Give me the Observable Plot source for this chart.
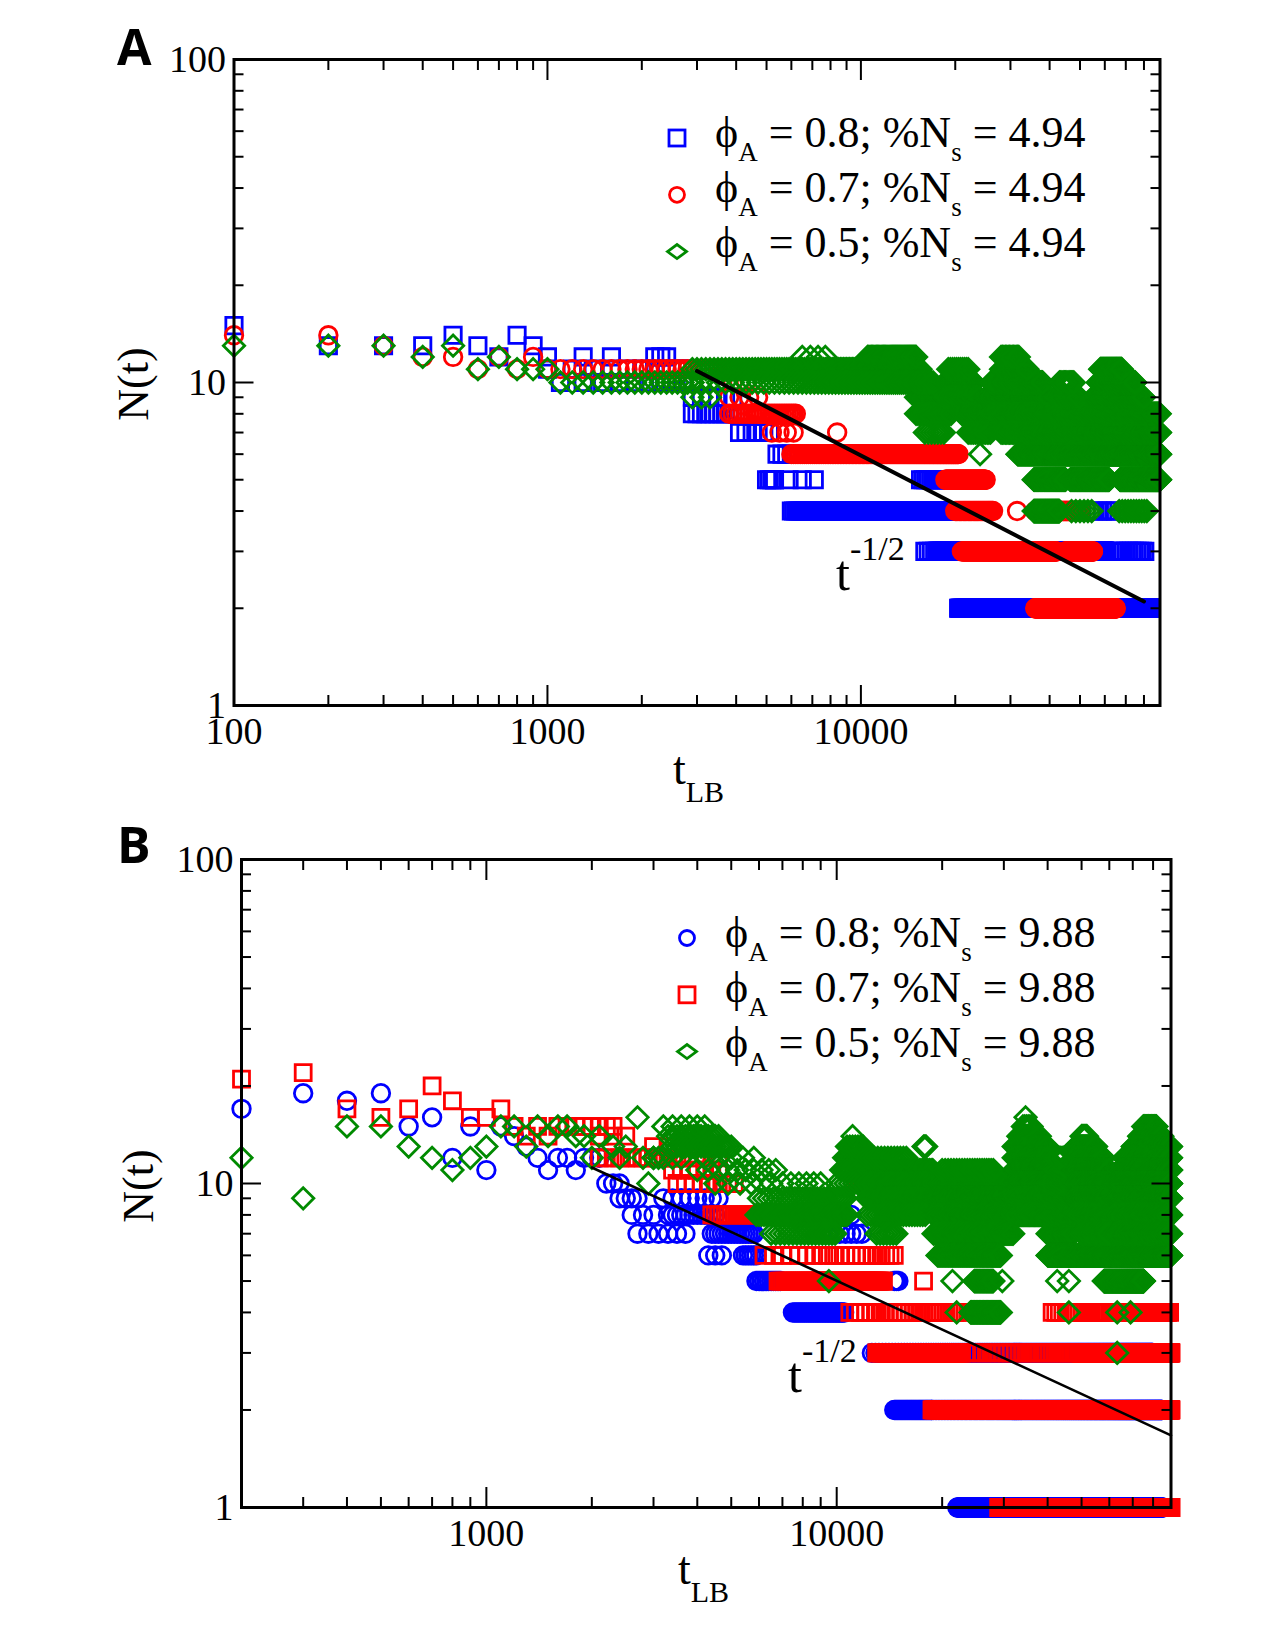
<!DOCTYPE html>
<html><head><meta charset="utf-8">
<script src="https://cdn.jsdelivr.net/npm/d3@7"></script>
<script src="https://cdn.jsdelivr.net/npm/@observablehq/plot@0.6"></script>
<style>
body{margin:0;background:#fff;}
#root{position:relative;width:1275px;height:1650px;background:#fff;overflow:hidden;}
.panel{position:absolute;left:0;}
#overlay text{white-space:pre;}
</style></head>
<body><div id="root"></div>
<script>
// ---------------- DATA ----------------
// Sampling interval of the simulation output (first points at 100, 200, 300 ...)
const STEP = 100;

// Panel A  (%Ns = 4.94)  points: [t, N] ; runs (plateaus): [N, tStart, tEnd, everyKthSample]
const aBluePts = [[100,15],[200,13],[300,13],[400,13],[500,14],[600,13],[700,12],[800,14],[900,13],[1000,12],[1300,12],[1600,12],[2200,12],[2300,12],[2400,12]];
const aBlueRuns = [
  [11,1000,2900,2],[10,1100,2900,2],[9,2900,3900,2],[8,2900,3900,1],[7,4100,5200,2],
  [6,5400,6100,2],[5,5000,5300,1],[5,5300,7600,6],[5,15500,19300,3],[4,6000,20200,1],
  [4,55000,65000,20],[3,16000,17500,4],[3,17500,60000,1],[3,64000,81000,15],[2,20500,84000,1]
];
const aRedPts = [[100,14],[200,14],[300,13],[400,12],[500,12],[600,11],[700,12],[800,11],[900,12],[1000,11]];
const aRedRuns = [
  [11,1000,3900,1],[10,3900,4300,2],[9,3800,4800,3],[8,3800,6200,1],[7,5200,6200,3],[7,8400,8400,1],
  [6,6000,20500,1],[5,18600,25000,1],[4,20000,26500,2],[4,31500,31500,1],[4,36000,50000,2],
  [3,21000,42000,1],[3,45000,55000,1],[2,36000,65000,1]
];
const aGreenPts = [[100,13],[200,13],[300,13],[400,12],[500,13],[600,11],[700,12],[800,11],[900,11],[1000,11]];
const aGreenRuns = [
  [10,1100,2900,1],[9,2900,3300,2],[11,2900,15500,1],[10,2900,15500,2],[12,10500,15000,1],[12,6500,8000,4],
  [9,15000,19000,1],[8,15000,19500,2],[7,16000,18500,4],[10,15000,17000,2],
  [10,18500,23000,1],[11,19000,22000,3],[9,18500,24000,2],[8,21000,27000,1],[7,22000,26000,3],[6,24000,24000,1],
  [9,25000,40000,1],[10,26000,38000,2],[11,28000,34000,2],[12,28000,32000,3],[8,26000,40000,2],[7,28000,36000,3],
  [6,31600,90000,1],[7,33000,90000,2],[8,40000,90000,3],[9,42000,50000,3],[10,43000,48000,4],
  [9,55000,80000,2],[10,57000,75000,2],[11,58000,68000,2],
  [5,35600,45000,1],[5,46500,62000,1],[5,67000,90000,1],
  [4,35600,43000,1],[4,47000,55000,15],[4,66700,82000,15]
];
const aFitT = [3000, 80000];
const aFitN = [10.85, 2.1];

// Panel B  (%Ns = 9.88)
const bBluePts = [[200,17],[300,19],[400,18],[500,19],[600,15],[700,16],[800,12],[900,15],[1000,11],[1100,15],[1200,14],[1300,13],[1400,12],[1500,11],[1600,12],[1700,12],[1800,11],[1900,12],[2000,12],[2100,12]];
const bBlueRuns = [
  [10,2200,2400,1],[9,2400,2700,1],[9,3200,3900,2],[9,3600,4600,2],[8,2600,3100,2],[8,3300,4500,1],
  [7,2700,3700,2],[7,4400,5800,1],[6,4300,4700,2],[6,5400,5900,1],[5,5900,6900,1],
  [7,9000,12000,4],[8,10000,11000,5],[4,7500,10500,1],[5,14600,15000,2],
  [3,12600,80000,3],[2,14600,18700,1],[2,18700,85000,2],[1,22100,29000,1],[1,29000,85000,2]
];
const bRedPts = [[200,21],[300,22],[400,17],[500,16],[600,17],[700,20],[800,18],[900,16],[1000,16],[1100,17],[1200,15],[1300,14],[1400,15],[1500,14],[1600,15],[1700,15],[1800,15],[1900,15],[2000,15]];
const bRedRuns = [
  [15,2000,2300,1],[14,2100,2500,2],[13,3000,4200,3],[12,2100,3600,1],[12,3600,4600,2],
  [11,3400,4700,2],[10,3500,5200,2],[8,4400,5900,1],[6,6200,14700,4],[5,6800,13600,1],[5,17700,17700,1],
  [10,11400,12800,3],[4,10900,22800,4],[4,41200,90000,10],
  [3,13000,22700,1],[3,22700,49700,8],[3,49700,90000,1],[2,18700,90000,1],[1,29000,90000,1]
];
const bGreenPts = [[200,12],[300,9],[400,15],[500,15],[600,13],[700,12],[800,11],[900,12],[1000,13],[1100,15],[1200,15],[1300,13],[1400,15],[1500,14],[1600,15],[1700,15],[1800,14],[1900,14],[2000,12],[2100,14],[2300,13],[2400,12],[2500,13],[2700,16],[2900,10],[3000,12],[3100,12]];
const bGreenRuns = [
  [14,3300,4600,1],[13,3400,5000,1],[15,3200,4300,2],[12,2800,3600,2],
  [11,4000,6800,3],[12,4200,6000,4],[10,4500,6800,4],
  [9,6000,10700,2],[8,5900,10700,1],[7,6500,10000,2],[10,7000,9000,4],[5,9500,9500,1],
  [12,10500,12200,2],[13,10700,12000,2],[14,11100,11100,1],[11,10300,12500,2],[10,10000,13000,3],
  [11,12200,18900,2],[10,12200,18900,2],[9,12200,18900,2],[8,12200,18000,3],[7,13000,15000,3],[12,12200,16000,3],[13,17700,18000,1],
  [10,18900,32000,2],[9,18900,32000,1],[8,18900,32000,1],[7,18900,32000,2],[11,20000,28000,4],
  [6,19400,29400,1],[5,21400,21400,1],[5,24700,28000,1],[5,29700,29700,1],[4,22000,22000,1],[4,24100,29400,1],
  [16,34600,34600,1],[15,34000,36000,4],[14,33000,38000,2],[13,32000,40000,2],[12,32000,40000,2],
  [11,32000,42000,1],[10,32000,42000,1],[9,32000,42000,2],[8,32000,40000,2],
  [7,40000,47500,2],[8,40000,47500,2],[9,40000,47500,2],[10,40000,47500,2],[11,42000,46000,3],[12,42000,45000,4],
  [6,40000,90000,1],[5,42600,42600,1],[5,46000,46000,1],[4,46000,46000,1],
  [14,50000,52000,3],[13,48000,55000,2],[12,47500,58000,2],[11,47500,60000,1],[10,47500,62000,1],[9,47500,62000,1],[8,47500,62000,2],[7,50000,60000,3],
  [5,57900,75300,1],[4,63200,63200,1],[4,69000,69000,1],[3,63200,63200,1],
  [15,75000,82000,4],[14,73000,85000,3],[13,70000,90000,2],[12,66000,90000,2],[11,64000,90000,1],[10,62000,90000,1],[9,62000,90000,1],[8,62000,90000,2],[7,62000,90000,2]
];
const bFitT = [2000, 90000];
const bFitN = [11.2, 1.67];

// Axis ticks and labels
const aXMajor = [100, 1000, 10000];
const aXMinor = [200,300,400,500,600,700,800,900,2000,3000,4000,5000,6000,7000,8000,9000,20000,30000,40000,50000,60000,70000,80000];
const bXMajor = [1000, 10000];
const bXMinor = [300,400,500,600,700,800,900,2000,3000,4000,5000,6000,7000,8000,9000,20000,30000,40000,50000,60000,70000,80000];
const yMajor = [1, 10, 100];
const yMinor = [2,3,4,5,6,7,8,9,20,30,40,50,60,70,80,90];

const legendPhi = ["0.8", "0.7", "0.5"];
const legendNsA = "4.94";
const legendNsB = "9.88";

// ---------------- HELPERS ----------------
const BLUE = "#0000ff", RED = "#ff0000", GREEN = "#008a00";
function expand(points, runs) {
  const rows = points.map(([t, n]) => ({t, n}));
  for (const [n, t0, t1, k = 1] of runs) {
    for (let t = t0; t <= t1; t += STEP * k) rows.push({t, n});
  }
  return rows;
}
const zip = (ts, ns) => ts.map((t, i) => ({t, n: ns[i]}));

function axes(xMaj, xMin) {
  const tk = {tickFormat: () => "", strokeWidth: 2, label: null};
  return [
    Plot.axisX({anchor: "bottom", ticks: xMaj, tickSize: -20, ...tk}),
    Plot.axisX({anchor: "bottom", ticks: xMin, tickSize: -10, ...tk}),
    Plot.axisX({anchor: "top", ticks: xMaj, tickSize: -20, ...tk}),
    Plot.axisX({anchor: "top", ticks: xMin, tickSize: -10, ...tk}),
    Plot.axisY({anchor: "left", ticks: yMajor, tickSize: -20, ...tk}),
    Plot.axisY({anchor: "left", ticks: yMinor, tickSize: -10, ...tk}),
    Plot.axisY({anchor: "right", ticks: yMajor, tickSize: -20, ...tk}),
    Plot.axisY({anchor: "right", ticks: yMinor, tickSize: -10, ...tk}),
    Plot.axisX({anchor: "bottom", ticks: xMaj, tickSize: 0, tickPadding: 12, tickFormat: d => String(d), fontSize: 38, label: null}),
    Plot.axisY({anchor: "left", ticks: yMajor, tickSize: 0, tickPadding: 8, tickFormat: d => String(d), fontSize: 38, label: null}),
    Plot.frame({stroke: "black", strokeWidth: 3})
  ];
}

function panel(opts) {
  return Plot.plot({
    width: 1275, height: opts.height,
    marginLeft: opts.ml, marginRight: opts.mr, marginTop: opts.mt, marginBottom: opts.mb,
    style: {fontFamily: "'Liberation Serif', serif", fontSize: "38px", background: "white", color: "black"},
    x: {type: "log", domain: opts.xDomain, label: null},
    y: {type: "log", domain: [1, 100], label: null},
    marks: [
      ...opts.series.map(s => Plot.dot(s.data, {x: "t", y: "n", symbol: s.symbol, r: s.r, stroke: s.color, strokeWidth: 2.8, fill: "none"})),
      Plot.line(opts.fit, {x: "t", y: "n", stroke: "black", strokeWidth: opts.fitWidth}),
      ...axes(opts.xMaj, opts.xMin)
    ]
  });
}

const root = document.getElementById("root");
function place(svg, top) {
  const d = document.createElement("div");
  d.className = "panel"; d.style.top = top + "px";
  d.appendChild(svg); root.appendChild(d);
}

place(panel({
  height: 820, ml: 233.5, mr: 115.5, mt: 59, mb: 115,
  xDomain: [100, 90000], xMaj: aXMajor, xMin: aXMinor,
  series: [
    {data: expand(aBluePts, aBlueRuns), symbol: "square", r: 9.2, color: BLUE},
    {data: expand(aRedPts, aRedRuns), symbol: "circle", r: 8.8, color: RED},
    {data: expand(aGreenPts, aGreenRuns), symbol: "diamond2", r: 9.6, color: GREEN}
  ],
  fit: zip(aFitT, aFitN), fitWidth: 4
}), 0);

place(panel({
  height: 830, ml: 241, mr: 104.5, mt: 39, mb: 143,
  xDomain: [200, 90000], xMaj: bXMajor, xMin: bXMinor,
  series: [
    {data: expand(bBluePts, bBlueRuns), symbol: "circle", r: 8.8, color: BLUE},
    {data: expand(bRedPts, bRedRuns), symbol: "square", r: 9.0, color: RED},
    {data: expand(bGreenPts, bGreenRuns), symbol: "diamond2", r: 9.6, color: GREEN}
  ],
  fit: zip(bFitT, bFitN), fitWidth: 2.6
}), 820);

// ---------------- OVERLAY TEXT ----------------
const ov = d3.select(root).append("svg").attr("id", "overlay")
  .attr("width", 1275).attr("height", 1650)
  .style("position", "absolute").style("left", "0px").style("top", "0px").style("pointer-events", "none");
const SERIF = "'Liberation Serif', 'DejaVu Serif', serif";

function panelLetter(txt, x, y) {
  ov.append("text").attr("x", x).attr("y", y).attr("font-family", "'Open Sans', 'DejaVu Sans', sans-serif")
    .attr("font-weight", 700).attr("font-size", 50).text(txt);
}
function yLabel(x, y) {
  ov.append("text").attr("transform", `translate(${x},${y}) rotate(-90)`).attr("text-anchor", "middle")
    .attr("font-family", SERIF).attr("font-size", 44).text("N(t)");
}
function xLabel(x, y) {
  const t = ov.append("text").attr("x", x).attr("y", y).attr("font-family", SERIF).attr("font-size", 46);
  t.append("tspan").text("t");
  t.append("tspan").attr("font-size", 30).attr("dy", 18).text("LB");
}
function powerLabel(x, y) {
  const t = ov.append("text").attr("x", x).attr("y", y).attr("font-family", SERIF).attr("font-size", 50);
  t.append("tspan").text("t");
  t.append("tspan").attr("font-size", 34).attr("dy", -30).text("-1/2");
}
function legendRow(mx, my, tx, ty, phi, ns, shape, color) {
  if (shape === "square") {
    ov.append("rect").attr("x", mx - 8).attr("y", my - 8).attr("width", 16).attr("height", 16)
      .attr("fill", "none").attr("stroke", color).attr("stroke-width", 2.8);
  } else if (shape === "circle") {
    ov.append("circle").attr("cx", mx).attr("cy", my).attr("r", 7.5)
      .attr("fill", "none").attr("stroke", color).attr("stroke-width", 2.8);
  } else {
    ov.append("path").attr("d", `M${mx - 9.5},${my}L${mx},${my - 7}L${mx + 9.5},${my}L${mx},${my + 7}Z`)
      .attr("fill", "none").attr("stroke", color).attr("stroke-width", 2.8);
  }
  const t = ov.append("text").attr("x", tx).attr("y", ty).attr("font-family", SERIF).attr("font-size", 44);
  t.append("tspan").text("\u03D5");
  t.append("tspan").attr("font-size", 27).attr("dy", 14).text("A");
  t.append("tspan").attr("dy", -14).text(` = ${phi}; %N`);
  t.append("tspan").attr("font-size", 27).attr("dy", 14).text("s");
  t.append("tspan").attr("dy", -14).text(` = ${ns}`);
}

// Panel A overlay
panelLetter("A", 117, 65);
yLabel(148, 384);
xLabel(673, 784);
powerLabel(836, 590);
const shapesA = ["square", "circle", "diamond"], colorsA = [BLUE, RED, GREEN];
legendPhi.forEach((p, i) => legendRow(677, 138 + i * 56.8, 715, 147 + i * 55, p, legendNsA, shapesA[i], colorsA[i]));

// Panel B overlay
panelLetter("B", 117, 863);
yLabel(153, 1186);
xLabel(678, 1584);
powerLabel(788, 1392);
const shapesB = ["circle", "square", "diamond"], colorsB = [BLUE, RED, GREEN];
legendPhi.forEach((p, i) => legendRow(687, 938 + i * 56.8, 725, 947 + i * 55, p, legendNsB, shapesB[i], colorsB[i]));
</script>
</body></html>
